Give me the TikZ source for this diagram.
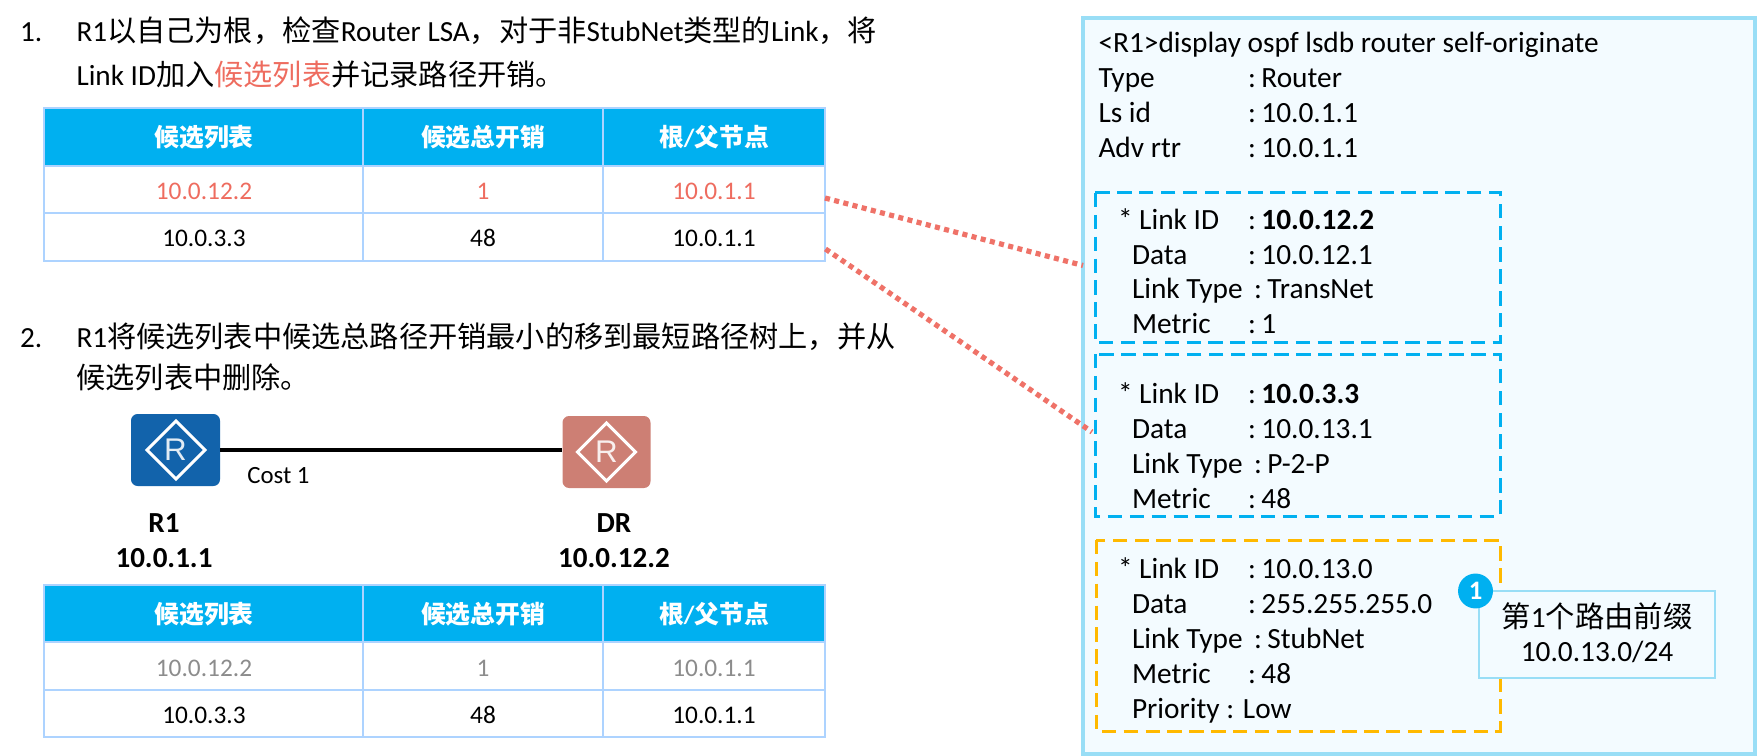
\documentclass[tikz,border=0pt]{standalone}
\usepackage{fontspec}
\setmainfont{Carlito}
\newfontfamily\cjk{Noto Sans CJK SC}
\newfontfamily\arialf{Liberation Sans}
\newcommand{\Z}[1]{{\cjk #1}}
\newcommand{\fs}[1]{\fontsize{#1}{#1}\selectfont}
\definecolor{hdr}{HTML}{00B0F0}
\definecolor{tline}{HTML}{ADD3FF}
\definecolor{salmon}{HTML}{EE6C5F}
\definecolor{dotc}{HTML}{EF7268}
\definecolor{outerb}{HTML}{99DEF6}
\definecolor{panel}{HTML}{F3FBFF}
\definecolor{amber}{HTML}{FFB900}
\definecolor{grayt}{HTML}{8C8C8C}
\definecolor{rblue}{HTML}{1263AB}
\definecolor{rred}{HTML}{CD7F74}
\tikzset{
  txt/.style={inner sep=0pt,outer sep=0pt,anchor=base west,font=\fs{21.9}},
  lsd/.style={inner sep=0pt,outer sep=0pt,anchor=base west,font=\fs{22}},
  cellt/.style={inner sep=0pt,outer sep=0pt,anchor=base,font=\fs{19}},
  headt/.style={inner sep=0pt,outer sep=0pt,anchor=base,font=\fs{18.6}\bfseries,text=white},
  lbl/.style={inner sep=0pt,outer sep=0pt,anchor=base,font=\fs{21.8}\bfseries},
  hairline/.style={draw=tline,line width=1.9pt},
  dotlink/.style={draw=dotc,line width=3.9pt,dash pattern=on 3.8pt off 3.3pt},
  bluebox/.style={draw=hdr,line width=2.25pt,dash pattern=on 10.8pt off 5.6pt},
  ambbox/.style={draw=amber,line width=2.25pt,dash pattern=on 10.8pt off 5.6pt},
  router/.style={rounded corners=5pt},
  rdiamond/.style={draw=white,line width=2.2pt,line join=miter},
  rletter/.style={inner sep=0pt,font=\arialf\fs{23.5},text=white,text opacity=0.88},
}
\usetikzlibrary{calc}
% prefix, y0,y1,y2,y3 (table grid), colour of first row
\newcommand{\mktable}[6]{
  \fill[hdr] (44,#2) rectangle (825,#3);
  \draw[hairline] (44,#2) rectangle (825,#5);
  \draw[hairline] (44,#3) -- (825,#3);
  \draw[hairline] (44,#4) -- (825,#4);
  \draw[tline,line width=1.1pt] (363,#2) -- (363,#5);
  \draw[tline,line width=1.1pt] (603,#2) -- (603,#5);
  \path let \n1={(#2+#3)/2+10} in
    node[headt] (#1h1) at (204,\n1) {\Z{候选列表}}
    node[headt] (#1h2) at (483,\n1) {\Z{候选总开销}}
    node[headt] (#1h3) at (714,\n1) {\Z{根}/\Z{父节点}};
  \path let \n1={(#3+#4)/2+10} in
    node[cellt,text=#6] (#1a1) at (204,\n1) {10.0.12.2}
    node[cellt,text=#6] (#1a2) at (483,\n1) {1}
    node[cellt,text=#6] (#1a3) at (714,\n1) {10.0.1.1};
  \path let \n1={(#4+#5)/2+10} in
    node[cellt] (#1b1) at (204,\n1) {10.0.3.3}
    node[cellt] (#1b2) at (483,\n1) {48}
    node[cellt] (#1b3) at (714,\n1) {10.0.1.1};
}
% name, x, y, label, colon x, value
\newcommand{\kv}[6]{
  \node[lsd] (#1l) at (#2,#3) {#4};
  \node[lsd] (#1v) at (#5,#3) {:\hspace{0.19em}#6};
}
\begin{document}
\begin{tikzpicture}[x=0.75pt,y=-0.75pt]
\useasboundingbox (0,0) rectangle (1757,756);
% panel
\coordinate (lnkAs) at (825,198);
\coordinate (lnkAe) at (1083,265.5);
\coordinate (lnkBs) at (825.5,249);
\coordinate (lnkBe) at (1092,432);
\draw[draw=outerb,fill=panel,line width=2.4pt] (1083,18) rectangle (1755,754);
% instruction text
\node[txt] (n1) at (20,42) {1.};
\node[txt] (l1) at (76.5,42) {R1\Z{以自己为根，检查}Router LSA\Z{，对于非}StubNet\Z{类型的}Link\Z{，将}};
\node[txt] (l2) at (76.5,86) {Link ID\Z{加入}\textcolor{salmon}{\Z{候选列表}}\Z{并记录路径开销。}};
\node[txt] (n2) at (20,347) {2.};
\node[txt] (l3) at (76.5,347) {R1\Z{将候选列表中候选总路径开销最小的移到最短路径树上，并从}};
\node[txt] (l4) at (76.5,388) {\Z{候选列表中删除。}};
% tables
\mktable{ta}{108}{166}{213}{261}{salmon}
\mktable{tb}{585}{642}{690}{737}{grayt}
% dotted links
\draw[dotlink] (lnkAs) -- (lnkAe);
\draw[dotlink] (lnkBs) -- (lnkBe);
% routers
\node[fill=rblue,router,minimum width=66.75pt,minimum height=54pt,inner sep=0pt] (r1) at (175.5,450) {};
\node[fill=rred,router,minimum width=66pt,minimum height=54pt,inner sep=0pt] (dr) at (606.5,452) {};
\draw[rdiamond] (176,421) -- (205,450) -- (176,479) -- (147,450) -- cycle;
\draw[rdiamond] (606.5,423) -- (635.5,452) -- (606.5,481) -- (577.5,452) -- cycle;
\node[rletter] (r1R) at (175.5,450) {R};
\node[rletter] (drR) at (606.5,452) {R};
\draw[black,line width=2.3pt] (r1.east) -- (dr.west |- r1.east);
\node[inner sep=0pt,anchor=base,font=\fs{18.6}] (cost) at (278.5,483) {Cost 1};
\node[lbl] (r1a) at (164,532) {R1};
\node[lbl] (r1b) at (164,567) {10.0.1.1};
\node[lbl] (dra) at (614,532) {DR};
\node[lbl] (drb) at (614,567) {10.0.12.2};
% LSDB
\node[lsd] (h0) at (1098.5,53) {<R1>display ospf lsdb router self-originate};
\kv{h1}{1098.5}{88}{Type}{1248}{Router}
\kv{h2}{1098.5}{123}{Ls id}{1248}{10.0.1.1}
\kv{h3}{1098.5}{158}{Adv rtr}{1248}{10.0.1.1}
% boxes
\draw[bluebox] (1095,193) rectangle (1500,342);
\draw[bluebox] (1095,354) rectangle (1500,516);
\draw[ambbox] (1096,540) rectangle (1500,731);
\kv{a1}{1118}{229}{* Link ID}{1248}{\textbf{10.0.12.2}}
\kv{a2}{1132}{264}{Data}{1248}{10.0.12.1}
\kv{a3}{1132}{298}{Link Type}{1254}{TransNet}
\kv{a4}{1132}{333}{Metric}{1248}{1}
\kv{b1}{1118}{403}{* Link ID}{1248}{\textbf{10.0.3.3}}
\kv{b2}{1132}{438}{Data}{1248}{10.0.13.1}
\kv{b3}{1132}{473}{Link Type}{1254}{P-2-P}
\kv{b4}{1132}{508}{Metric}{1248}{48}
\kv{c1}{1118}{578}{* Link ID}{1248}{10.0.13.0}
\kv{c2}{1132}{613}{Data}{1248}{255.255.255.0}
\kv{c3}{1132}{648}{Link Type}{1254}{StubNet}
\kv{c4}{1132}{683}{Metric}{1248}{48}
\node[lsd] (c5) at (1132,718) {Priority : Low};
% callout
\draw[draw=outerb,fill=panel,line width=2.2pt] (1479,591) rectangle (1715,678);
\node[lsd,anchor=base] (co1) at (1597,627) {\Z{第}1\Z{个路由前缀}};
\node[lsd,anchor=base] (co2) at (1597,661) {10.0.13.0/24};
\node[circle,fill=hdr,text=white,inner sep=0pt,minimum size=26.2pt,font=\fs{20}\bfseries] (badge) at (1475.5,591) {1};
\end{tikzpicture}
\end{document}
